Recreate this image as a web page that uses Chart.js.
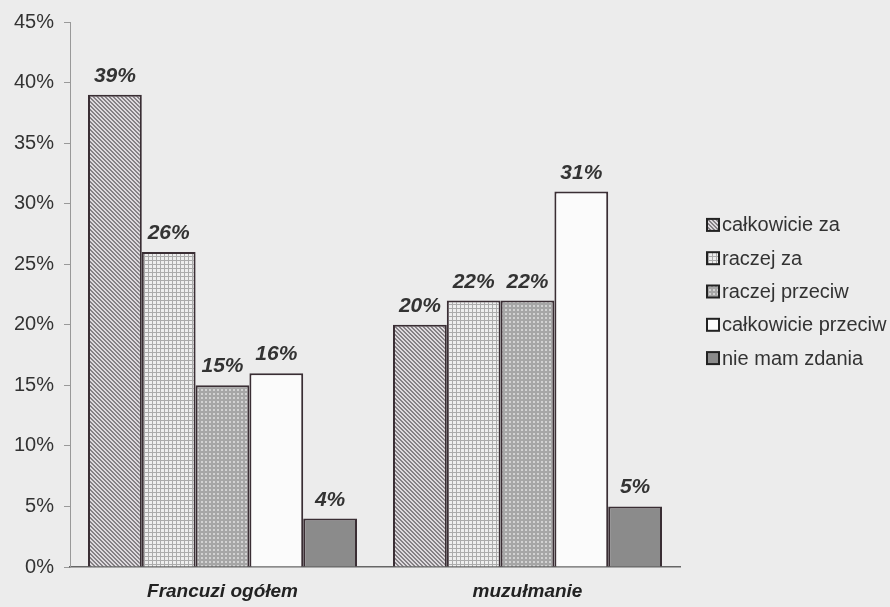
<!DOCTYPE html>
<html>
<head>
<meta charset="utf-8">
<script src="https://cdn.jsdelivr.net/npm/chart.js@4.4.1/dist/chart.umd.min.js"></script>
<style>
html,body{margin:0;padding:0;background:#ececec;}
#wrap{width:890px;height:607px;position:relative;}
</style>
</head>
<body>
<div id="wrap"><canvas id="c" width="890" height="607"></canvas></div>
<script>
const categories = ["Francuzi ogółem", "muzułmanie"];
const seriesNames = ["całkowicie za", "raczej za", "raczej przeciw", "całkowicie przeciw", "nie mam zdania"];
const calkowicieZa = [39, 20];
const raczejZa = [26, 22];
const raczejPrzeciw = [15, 22];
const calkowiciePrzeciw = [16, 31];
const nieMamZdania = [4, 5];
const yTicks = [0, 5, 10, 15, 20, 25, 30, 35, 40, 45];

function tile(size, draw){
  const c = document.createElement('canvas');
  c.width = size; c.height = size;
  const g = c.getContext('2d');
  draw(g, size);
  return document.getElementById('c').getContext('2d').createPattern(c, 'repeat');
}
const patHatch = tile(4, (g, s) => {
  g.fillStyle = '#dedade'; g.fillRect(0,0,s,s);
  g.fillStyle = '#858185';
  for (let i = 0; i < s; i++) { g.fillRect(i, i, 1, 1); g.fillRect((i+1)%s, i, 1, 1); }
});
const patGrid = tile(4, (g, s) => {
  g.fillStyle = '#eeeeee'; g.fillRect(0,0,s,s);
  g.fillStyle = '#ababab';
  g.fillRect(0,0,s,1); g.fillRect(0,0,1,s);
});
const patDots = tile(4, (g, s) => {
  g.fillStyle = '#a6a6a6'; g.fillRect(0,0,s,s);
  g.fillStyle = '#d2d2d2'; g.fillRect(1,1,2,2);
});
const fills = [patHatch, patGrid, patDots, '#fbfbfb', '#8b8b8b'];
const values = [calkowicieZa, raczejZa, raczejPrzeciw, calkowiciePrzeciw, nieMamZdania];

const borderCol = '#3a2e34';

const labelPlugin = {
  id: 'valueLabels',
  afterDatasetsDraw(chart){
    const ctx = chart.ctx;
    ctx.save();
    ctx.font = 'italic bold 21px "Liberation Sans", Arial, sans-serif';
    ctx.fillStyle = '#333';
    ctx.textAlign = 'center';
    ctx.textBaseline = 'alphabetic';
    chart.data.datasets.forEach((ds, i) => {
      const meta = chart.getDatasetMeta(i);
      meta.data.forEach((bar, j) => {
        ctx.fillText(ds.data[j] + '%', bar.x, bar.y - 13);
      });
    });
    ctx.restore();
  }
};

const legendPlugin = {
  id: 'customLegend',
  afterDraw(chart){
    const ctx = chart.ctx;
    const x0 = chart.chartArea.right + 27;
    const yC = (chart.chartArea.top + chart.chartArea.bottom) / 2 - 3;
    const step = 33.3;
    ctx.save();
    ctx.font = '20px "Liberation Sans", Arial, sans-serif';
    ctx.textBaseline = 'middle';
    chart.data.datasets.forEach((ds, i) => {
      const y = yC + (i - 2) * step;
      ctx.fillStyle = ds.backgroundColor;
      ctx.fillRect(x0, y - 6, 12, 12);
      ctx.strokeStyle = '#222';
      ctx.lineWidth = 2;
      ctx.strokeRect(x0, y - 6, 12, 12);
      ctx.fillStyle = '#333';
      ctx.textAlign = 'left';
      ctx.fillText(ds.label, x0 + 15, y + 1);
    });
    ctx.restore();
  }
};

new Chart(document.getElementById('c'), {
  type: 'bar',
  data: {
    labels: categories,
    datasets: seriesNames.map((n, i) => ({
      label: n,
      data: values[i],
      backgroundColor: fills[i],
      borderColor: borderCol,
      borderWidth: 2,
      borderSkipped: 'bottom',
      categoryPercentage: 0.882,
      barPercentage: 1.0
    }))
  },
  options: {
    responsive: false,
    animation: false,
    events: [],
    layout: { padding: { top: 14, right: 210, bottom: 0, left: 0 } },
    plugins: { legend: { display: false }, tooltip: { enabled: false } },
    scales: {
      x: {
        afterFit: s => { s.height = 40; },
        grid: { display: false },
        border: { display: true, color: '#666', width: 1.5 },
        ticks: {
          padding: 5,
          color: '#222',
          font: { family: '"Liberation Sans", Arial, sans-serif', size: 19, style: 'italic', weight: 'bold' }
        }
      },
      y: {
        min: 0, max: 45,
        afterFit: s => { s.width = 70; },
        afterBuildTicks: s => { s.ticks = yTicks.map(v => ({ value: v })); },
        grid: { drawOnChartArea: false, drawTicks: true, tickLength: 6, color: '#999' },
        border: { display: true, color: '#999', width: 1 },
        ticks: {
          padding: 10,
          color: '#333',
          font: { family: '"Liberation Sans", Arial, sans-serif', size: 20 },
          callback: v => v + '%'
        }
      }
    }
  },
  plugins: [labelPlugin, legendPlugin]
});
</script>
</body>
</html>
